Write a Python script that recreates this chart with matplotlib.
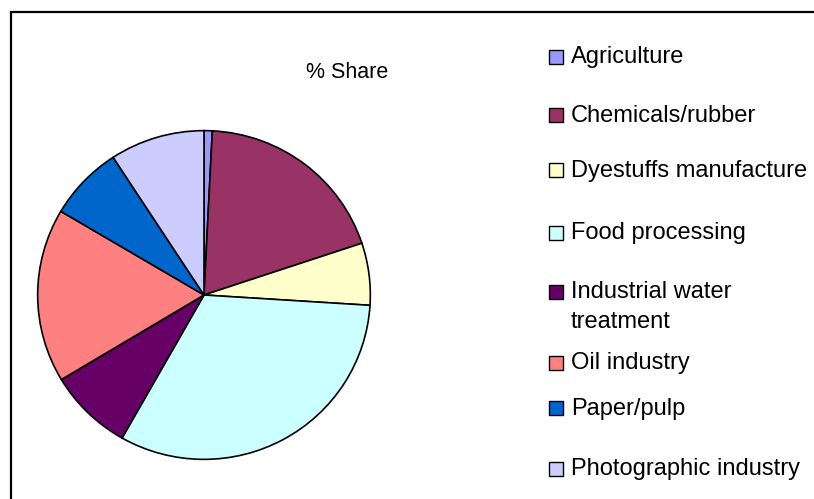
import matplotlib.pyplot as plt
from matplotlib.patches import Rectangle

plt.rcParams['font.family'] = ['Liberation Sans', 'DejaVu Sans']

# share of use by sector (%)
sectors = ["Agriculture", "Chemicals/rubber", "Dyestuffs manufacture",
           "Food processing", "Industrial water\ntreatment", "Oil industry",
           "Paper/pulp", "Photographic industry"]
shares = [0.8, 19.1, 6.1, 32.2, 8.2, 17.1, 7.3, 9.2]
colors = ["#9999FF", "#993366", "#FFFFCC", "#CCFFFF",
          "#660066", "#FF8080", "#0066CC", "#CCCCFF"]

# legend rows: top of each swatch, in pixels from the top
legend_rows = [50, 108, 163, 226, 285, 356, 401, 462]

W, H = 814, 499
fig = plt.figure(figsize=(W / 100, H / 100), dpi=100)

# pie centred at (204, 295) px
cx, cy, rx, ry = 204, 295, 168, 166
ax = fig.add_axes([(cx - rx) / W, (H - cy - ry) / H, 2 * rx / W, 2 * ry / H])
ax.pie(shares, colors=colors, startangle=90, counterclock=False, radius=1,
       wedgeprops=dict(edgecolor="black", linewidth=1.2))
ax.set_aspect("auto")
ax.set_xlim(-1.01, 1.01)
ax.set_ylim(-1.01, 1.01)
ax.axis("off")

fig.text(347 / W, 1 - 72 / H, "% Share", ha="center", va="center", fontsize=15.5)

# hand-placed legend; text baseline sits on the swatch bottom
sq = 14
line_gap = 30
for label, col, top in zip(sectors, colors, legend_rows):
    fig.add_artist(Rectangle((549 / W, 1 - (top + sq) / H), sq / W, sq / H,
                             facecolor=col, edgecolor="black", linewidth=1.0,
                             transform=fig.transFigure))
    for i, line in enumerate(label.split("\n")):
        base = top + sq - 0.5 + i * line_gap
        fig.text(571 / W, 1 - base / H, line, ha="left", va="baseline",
                 fontsize=17)

# chart-area border (only top and left edges visible)
fig.add_artist(Rectangle((11 / W, -0.5), 2, 1 - 12 / H + 0.5, fill=False,
                         edgecolor="black", linewidth=1.6,
                         transform=fig.transFigure))

fig.savefig("out.png", dpi=100)
